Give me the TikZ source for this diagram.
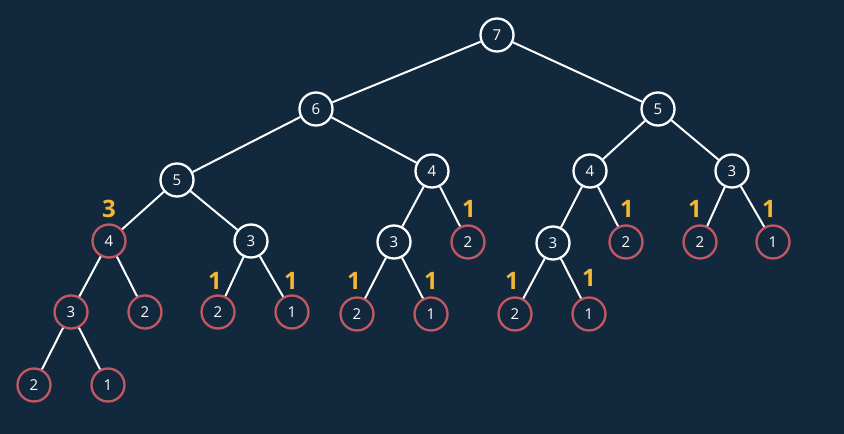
\documentclass[tikz,border=0pt]{standalone}
\usepackage{fontspec}
\setmainfont{Open Sans}
\definecolor{bg}{RGB}{18,40,61}
\definecolor{redc}{RGB}{196,88,98}
\definecolor{yel}{RGB}{242,184,52}
\tikzset{
  wn/.style={circle,draw=white,line width=2.3pt,fill=bg,minimum size=33pt,inner sep=0pt,text=white,font=\fontsize{15}{15}\selectfont},
  rn/.style={wn,draw=redc},
  lab/.style={text=yel,font=\bfseries\fontsize{24}{24}\selectfont,inner sep=0pt},
  edge/.style={draw=white,line width=2pt}
}
\begin{document}
\begin{tikzpicture}[x=1pt,y=-1pt]
\fill[bg] (0,0) rectangle (844,434);
\useasboundingbox (0,0) rectangle (844,434);
% level 0-2
\node[wn] (n7) at (497,35) {7};
\node[wn] (n6) at (316,109) {6};
\node[wn] (n5r) at (658,109) {5};
\node[wn] (n5l) at (177,180) {5};
\node[wn] (n4a) at (432,171) {4};
\node[wn] (n4b) at (590,171) {4};
\node[wn] (n3a) at (732,171) {3};
% level 3
\node[rn] (r4) at (109,241) {4};
\node[wn] (n3b) at (251,241) {3};
\node[wn] (n3c) at (394,242) {3};
\node[rn] (r2a) at (468,242) {2};
\node[wn] (n3d) at (553,243) {3};
\node[rn] (r2b) at (626,242) {2};
\node[rn] (r2c) at (700,242) {2};
\node[rn] (r1a) at (773,242) {1};
% level 4
\node[rn] (r3) at (71,312) {3};
\node[rn] (r2d) at (145,312) {2};
\node[rn] (r2e) at (218,312) {2};
\node[rn] (r1b) at (292,312) {1};
\node[rn] (r2f) at (357,314) {2};
\node[rn] (r1c) at (431,314) {1};
\node[rn] (r2g) at (515,314) {2};
\node[rn] (r1d) at (589,314) {1};
% level 5
\node[rn] (r2h) at (34,385) {2};
\node[rn] (r1e) at (108,385) {1};
% edges
\foreach \a/\b in {n7/n6,n7/n5r,n6/n5l,n6/n4a,n5r/n4b,n5r/n3a,
  n5l/r4,n5l/n3b,n4a/n3c,n4a/r2a,n4b/n3d,n4b/r2b,n3a/r2c,n3a/r1a,
  r4/r3,r4/r2d,n3b/r2e,n3b/r1b,n3c/r2f,n3c/r1c,n3d/r2g,n3d/r1d,
  r3/r2h,r3/r1e}
  \path[edge] (\a) -- (\b);
% yellow labels
\node[lab] (y3) at (109,209) {3};
\node[lab] (ya) at (469,209) {1};
\node[lab] (yb) at (627,209) {1};
\node[lab] (yc) at (695,209) {1};
\node[lab] (yd) at (769,209) {1};
\node[lab] (ye) at (215,281) {1};
\node[lab] (yf) at (291,281) {1};
\node[lab] (yg) at (354,281) {1};
\node[lab] (yh) at (431,281) {1};
\node[lab] (yi) at (512,281) {1};
\node[lab] (yj) at (589,278) {1};
\end{tikzpicture}
\end{document}
